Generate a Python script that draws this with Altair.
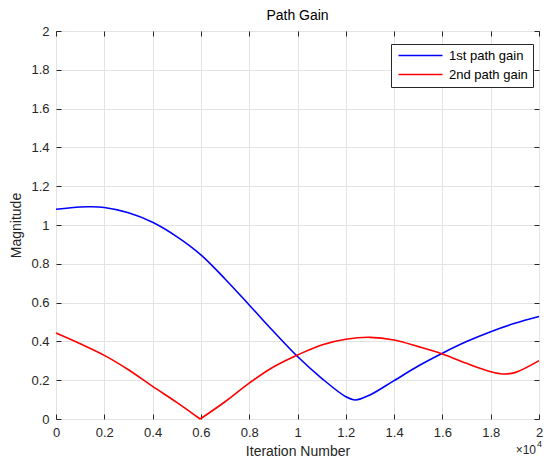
import altair as alt
import pandas as pd

# ---- data ----
series_names = ["1st path gain", "2nd path gain"]
series_colors = ["#0000ff", "#ff0000"]

iter_1st = [0, 1000, 1400, 2000, 3000, 4000, 5000, 6000, 7000, 8000, 9000, 10000,
            11000, 12000, 12400, 13000, 14000, 15000, 16000, 17000, 18000, 19000, 20000]
gain_1st = [1.081, 1.093, 1.094, 1.090, 1.063, 1.014, 0.940, 0.846, 0.722, 0.588, 0.452, 0.322,
            0.210, 0.115, 0.098, 0.124, 0.198, 0.273, 0.339, 0.399, 0.450, 0.493, 0.528]

iter_2nd_a = [0, 1000, 2000, 3000, 4000, 5000, 5970]
gain_2nd_a = [0.443, 0.388, 0.328, 0.254, 0.168, 0.086, 0.0]
iter_2nd_b = [5970, 7000, 8000, 9000, 10000, 11000, 12000, 13000, 14000, 15000,
              16000, 17000, 18000, 18500, 19000, 20000]
gain_2nd_b = [0.0, 0.089, 0.185, 0.268, 0.330, 0.382, 0.411, 0.421, 0.407, 0.373,
              0.335, 0.287, 0.244, 0.232, 0.239, 0.301]

x_ticks = [0, 2000, 4000, 6000, 8000, 10000, 12000, 14000, 16000, 18000, 20000]
y_ticks = [0, 0.2, 0.4, 0.6, 0.8, 1, 1.2, 1.4, 1.6, 1.8, 2]
exp_base = ["×10"]
exp_power = ["4"]

rows = []
for x, y in zip(iter_1st, gain_1st):
    rows.append({"iter": x, "gain": y, "series": series_names[0], "seg": "1"})
for x, y in zip(iter_2nd_a, gain_2nd_a):
    rows.append({"iter": x, "gain": y, "series": series_names[1], "seg": "2a"})
for x, y in zip(iter_2nd_b, gain_2nd_b):
    rows.append({"iter": x, "gain": y, "series": series_names[1], "seg": "2b"})
df = pd.DataFrame(rows)

FONT = "Liberation Sans"
W, H = 483, 388

xscale = alt.Scale(domain=[0, 20000], nice=False, zero=False)
yscale = alt.Scale(domain=[0, 2], nice=False, zero=False)

lines = alt.Chart(df).mark_line(strokeWidth=1.6, interpolate="catmull-rom").encode(
    x=alt.X("iter:Q", scale=xscale, axis=alt.Axis(
        orient="bottom", values=x_ticks, labelExpr="datum.value/10000",
        offset=-5, tickSize=5, domain=False, grid=True, gridColor="#e3e3e3",
        labelPadding=7, labelFlush=False, labelOverlap=False,
        title="Iteration Number", titlePadding=5)),
    y=alt.Y("gain:Q", scale=yscale, axis=alt.Axis(
        orient="left", values=y_ticks, format="~g",
        offset=-5, tickSize=5, domain=False, grid=True, gridColor="#e3e3e3",
        labelPadding=7, labelFlush=False, labelOverlap=False,
        title="Magnitude", titlePadding=7)),
    color=alt.Color("series:N", title=None,
                    scale=alt.Scale(domain=series_names, range=series_colors),
                    legend=alt.Legend(orient="none", legendX=335, legendY=13,
                                      symbolType="M-1,0H10", symbolSize=64,
                                      symbolStrokeWidth=1.5, labelFontSize=13,
                                      labelFont=FONT, labelColor="#000000",
                                      padding=5, rowPadding=5, labelOffset=40,
                                      strokeColor="#262626", fillColor="#ffffff")),
    detail="seg:N",
)

frame_axes = alt.Chart(df).mark_line(opacity=0).encode(
    x=alt.X("iter:Q", scale=xscale, axis=alt.Axis(
        orient="top", values=x_ticks, labels=False, offset=-5, tickSize=5,
        domain=False, grid=False, title=None)),
    y=alt.Y("gain:Q", scale=yscale, axis=alt.Axis(
        orient="right", values=y_ticks, labels=False, offset=-5, tickSize=5,
        domain=False, grid=False, title=None)),
    detail="seg:N",
)

exp1 = alt.Chart(pd.DataFrame({"t": exp_base})).mark_text(
    align="right", baseline="middle", fontSize=12, font=FONT, color="#262626"
).encode(x=alt.value(W - 3), y=alt.value(H + 31), text="t:N")
exp2 = alt.Chart(pd.DataFrame({"t": exp_power})).mark_text(
    align="left", baseline="middle", fontSize=9, font=FONT, color="#262626"
).encode(x=alt.value(W - 2), y=alt.value(H + 25), text="t:N")

chart = alt.layer(lines, frame_axes, exp1, exp2).resolve_axis(
    x="independent", y="independent"
).properties(
    width=W, height=H,
    title=alt.TitleParams("Path Gain", anchor="middle", frame="group"),
    autosize=alt.AutoSizeParams(type="none"),
    padding={"left": 48, "top": 23, "right": 4, "bottom": 39},
).configure_view(
    stroke="#262626", strokeWidth=1
).configure_axis(
    labelFont=FONT, labelFontSize=13, labelColor="#262626",
    titleFont=FONT, titleFontSize=14, titleFontWeight="normal", titleColor="#262626",
    tickColor="#262626", tickWidth=1
).configure_title(
    font=FONT, fontSize=14, fontWeight="normal", color="#000000", offset=2
)

chart.save("out.html", embed_options={"renderer": "svg", "actions": False})
